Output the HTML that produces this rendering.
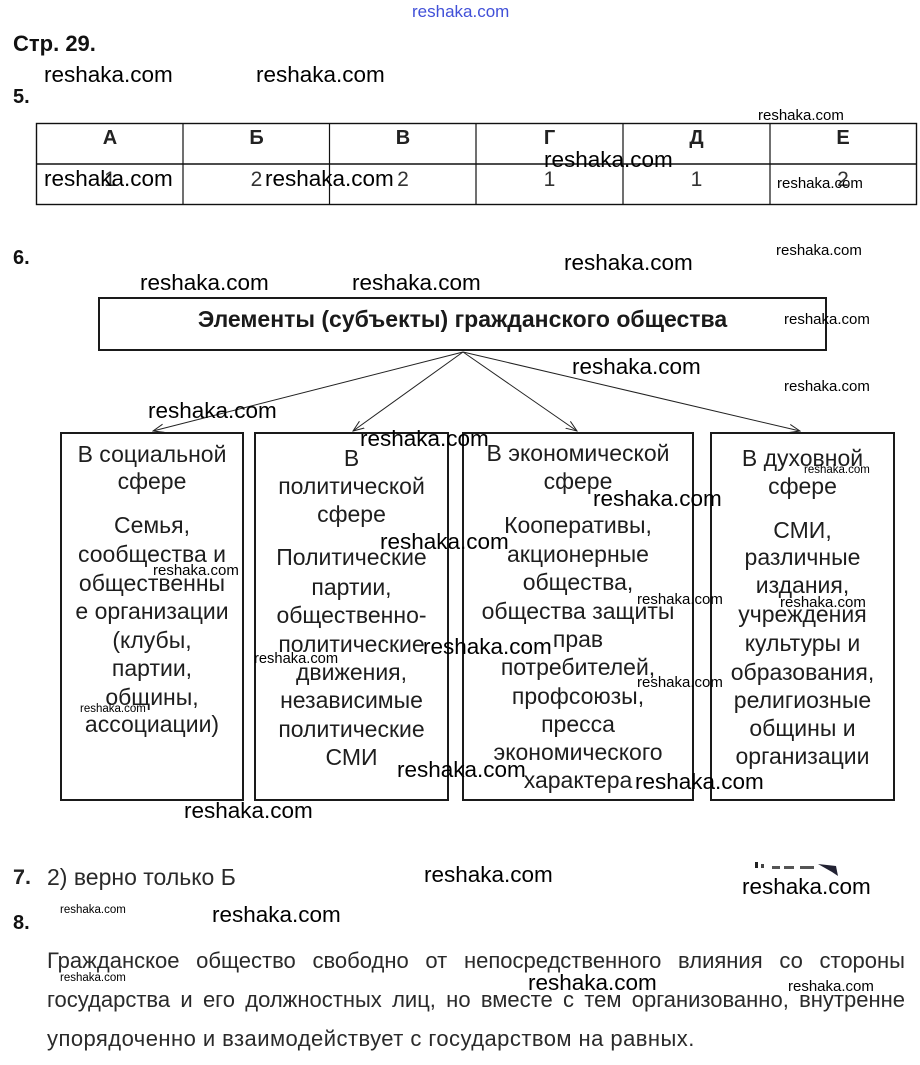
<!DOCTYPE html>
<html><head><meta charset="utf-8">
<style>
html,body{margin:0;padding:0;background:#fff;}
body{width:920px;height:1065px;position:relative;overflow:hidden;font-family:"Liberation Sans","DejaVu Sans",sans-serif;color:#1a1a1a;}
.t{position:absolute;line-height:1;white-space:nowrap;}
.b{font-weight:bold;}
.c{text-align:center;}
.bx{font-size:23px;color:#1e1e1e;margin-top:-1.3px;}
.w{position:absolute;line-height:1;white-space:nowrap;color:#000;font-size:22.5px;z-index:5;}
.s{position:absolute;line-height:1;white-space:nowrap;color:#000;font-size:15px;z-index:5;}
.xs{position:absolute;line-height:1;white-space:nowrap;color:#000;font-size:11.5px;z-index:5;}
.p{position:absolute;left:47px;width:858px;font-size:22px;line-height:1;color:#2a2a2a;white-space:nowrap;}
.j{text-align:justify;text-align-last:justify;white-space:normal;}
</style></head><body>

<svg width="920" height="1065" style="position:absolute;left:0;top:0;" xmlns="http://www.w3.org/2000/svg">
<defs>
<marker id="ah" markerWidth="12" markerHeight="10" refX="11" refY="5" orient="auto" markerUnits="userSpaceOnUse">
<path d="M0,0.8 L11,5 L0,9.2" fill="none" stroke="#222" stroke-width="1"/>
</marker>
</defs>
<rect x="36.5" y="123.5" width="880" height="81" fill="none" stroke="#111" stroke-width="1.4"/>
<line x1="36.5" y1="164" x2="916.5" y2="164" stroke="#111" stroke-width="1.4"/>
<line x1="183" y1="123.5" x2="183" y2="204.5" stroke="#111" stroke-width="1.2"/>
<line x1="329.5" y1="123.5" x2="329.5" y2="204.5" stroke="#111" stroke-width="1.2"/>
<line x1="476" y1="123.5" x2="476" y2="204.5" stroke="#111" stroke-width="1.2"/>
<line x1="623" y1="123.5" x2="623" y2="204.5" stroke="#111" stroke-width="1.2"/>
<line x1="770" y1="123.5" x2="770" y2="204.5" stroke="#111" stroke-width="1.2"/>
<rect x="99" y="298" width="727" height="52" fill="none" stroke="#1a1a1a" stroke-width="2"/>
<line x1="463" y1="352" x2="153" y2="431" stroke="#222" stroke-width="1" marker-end="url(#ah)"/>
<line x1="463" y1="352" x2="353" y2="431" stroke="#222" stroke-width="1" marker-end="url(#ah)"/>
<line x1="463" y1="352" x2="577" y2="431" stroke="#222" stroke-width="1" marker-end="url(#ah)"/>
<line x1="463" y1="352" x2="800" y2="431" stroke="#222" stroke-width="1" marker-end="url(#ah)"/>
<rect x="61" y="433" width="182" height="367" fill="none" stroke="#1a1a1a" stroke-width="2"/>
<rect x="255" y="433" width="193" height="367" fill="none" stroke="#1a1a1a" stroke-width="2"/>
<rect x="463" y="433" width="230" height="367" fill="none" stroke="#1a1a1a" stroke-width="2"/>
<rect x="711" y="433" width="183" height="367" fill="none" stroke="#1a1a1a" stroke-width="2"/>
<rect x="755" y="862" width="3" height="6" fill="#222"/>
<rect x="761" y="864" width="3" height="4" fill="#444"/>
<rect x="772" y="866" width="8" height="3" fill="#555"/>
<rect x="784" y="866" width="10" height="3" fill="#555"/>
<rect x="800" y="866" width="14" height="3" fill="#555"/>
<path d="M818,864 L836,866 L838,876 L832,872 Z" fill="#223"/>
</svg>

<div class="t" style="left:412px;top:2.6px;font-size:17px;color:#4150d8;">reshaka.com</div>

<div class="t b" style="left:13px;top:33.4px;font-size:22px;color:#111;">Стр. 29.</div>
<div class="t b" style="left:13px;top:87px;font-size:20px;color:#111;">5.</div>

<div class="t b c" style="left:37px;width:146px;top:128px;font-size:20px;color:#222;">А</div>
<div class="t b c" style="left:183px;width:147px;top:128px;font-size:20px;color:#222;">Б</div>
<div class="t b c" style="left:330px;width:146px;top:128px;font-size:20px;color:#222;">В</div>
<div class="t b c" style="left:476px;width:147px;top:128px;font-size:20px;color:#222;">Г</div>
<div class="t b c" style="left:623px;width:147px;top:128px;font-size:20px;color:#222;">Д</div>
<div class="t b c" style="left:770px;width:146px;top:128px;font-size:20px;color:#222;">Е</div>
<div class="t c" style="left:37px;width:146px;top:169.2px;font-size:21px;color:#333;">1</div>
<div class="t c" style="left:183px;width:147px;top:169.2px;font-size:21px;color:#333;">2</div>
<div class="t c" style="left:330px;width:146px;top:169.2px;font-size:21px;color:#333;">2</div>
<div class="t c" style="left:476px;width:147px;top:169.2px;font-size:21px;color:#333;">1</div>
<div class="t c" style="left:623px;width:147px;top:169.2px;font-size:21px;color:#333;">1</div>
<div class="t c" style="left:770px;width:146px;top:169.2px;font-size:21px;color:#333;">2</div>

<div class="t b" style="left:13px;top:248px;font-size:20px;color:#111;">6.</div>

<div class="t b c" style="left:98px;width:729px;top:307.5px;font-size:23px;color:#1a1a1a;">Элементы (субъекты) гражданского общества</div>

<div class="t c bx" style="left:60px;width:184px;top:443.8px;">В социальной</div>
<div class="t c bx" style="left:60px;width:184px;top:470.8px;">сфере</div>
<div class="t c bx" style="left:60px;width:184px;top:514.8px;">Семья,</div>
<div class="t c bx" style="left:60px;width:184px;top:543.8px;">сообщества и</div>
<div class="t c bx" style="left:60px;width:184px;top:572.8px;">общественны</div>
<div class="t c bx" style="left:60px;width:184px;top:600.8px;">е организации</div>
<div class="t c bx" style="left:60px;width:184px;top:629.8px;">(клубы,</div>
<div class="t c bx" style="left:60px;width:184px;top:657.8px;">партии,</div>
<div class="t c bx" style="left:60px;width:184px;top:686.8px;">общины,</div>
<div class="t c bx" style="left:60px;width:184px;top:713.8px;">ассоциации)</div>

<div class="t c bx" style="left:254px;width:195px;top:447.8px;">В</div>
<div class="t c bx" style="left:254px;width:195px;top:475.8px;">политической</div>
<div class="t c bx" style="left:254px;width:195px;top:503.8px;">сфере</div>
<div class="t c bx" style="left:254px;width:195px;top:546.8px;">Политические</div>
<div class="t c bx" style="left:254px;width:195px;top:576.8px;">партии,</div>
<div class="t c bx" style="left:254px;width:195px;top:604.8px;">общественно-</div>
<div class="t c bx" style="left:254px;width:195px;top:633.8px;">политические</div>
<div class="t c bx" style="left:254px;width:195px;top:661.8px;">движения,</div>
<div class="t c bx" style="left:254px;width:195px;top:689.8px;">независимые</div>
<div class="t c bx" style="left:254px;width:195px;top:718.8px;">политические</div>
<div class="t c bx" style="left:254px;width:195px;top:746.8px;">СМИ</div>

<div class="t c bx" style="left:462px;width:232px;top:442.8px;">В экономической</div>
<div class="t c bx" style="left:462px;width:232px;top:470.8px;">сфере</div>
<div class="t c bx" style="left:462px;width:232px;top:514.8px;">Кооперативы,</div>
<div class="t c bx" style="left:462px;width:232px;top:543.8px;">акционерные</div>
<div class="t c bx" style="left:462px;width:232px;top:571.8px;">общества,</div>
<div class="t c bx" style="left:462px;width:232px;top:600.8px;">общества защиты</div>
<div class="t c bx" style="left:462px;width:232px;top:628.8px;">прав</div>
<div class="t c bx" style="left:462px;width:232px;top:656.8px;">потребителей,</div>
<div class="t c bx" style="left:462px;width:232px;top:685.8px;">профсоюзы,</div>
<div class="t c bx" style="left:462px;width:232px;top:713.8px;">пресса</div>
<div class="t c bx" style="left:462px;width:232px;top:741.8px;">экономического</div>
<div class="t c bx" style="left:462px;width:232px;top:769.8px;">характера</div>

<div class="t c bx" style="left:710px;width:185px;top:447.8px;">В духовной</div>
<div class="t c bx" style="left:710px;width:185px;top:475.8px;">сфере</div>
<div class="t c bx" style="left:710px;width:185px;top:519.8px;">СМИ,</div>
<div class="t c bx" style="left:710px;width:185px;top:546.8px;">различные</div>
<div class="t c bx" style="left:710px;width:185px;top:574.8px;">издания,</div>
<div class="t c bx" style="left:710px;width:185px;top:603.8px;">учреждения</div>
<div class="t c bx" style="left:710px;width:185px;top:632.8px;">культуры и</div>
<div class="t c bx" style="left:710px;width:185px;top:661.8px;">образования,</div>
<div class="t c bx" style="left:710px;width:185px;top:689.8px;">религиозные</div>
<div class="t c bx" style="left:710px;width:185px;top:717.8px;">общины и</div>
<div class="t c bx" style="left:710px;width:185px;top:745.8px;">организации</div>

<div class="t b" style="left:13px;top:866.8px;font-size:21.5px;color:#222;">7.</div>
<div class="t" style="left:47px;top:865.5px;font-size:23px;color:#2a2a2a;">2) верно только Б</div>
<div class="t b" style="left:13px;top:913px;font-size:20px;color:#111;">8.</div>

<div class="p j" style="top:950.4px;">Гражданское общество свободно от непосредственного влияния со стороны</div>
<div class="p j" style="top:989.4px;">государства и его должностных лиц, но вместе с тем организованно, внутренне</div>
<div class="p" style="top:1028.4px;letter-spacing:0.45px;">упорядоченно и взаимодействует с государством на равных.</div>

<div class="w" style="left:44px;top:64px;">reshaka.com</div>
<div class="w" style="left:256px;top:64px;">reshaka.com</div>
<div class="w" style="left:544px;top:149px;">reshaka.com</div>
<div class="w" style="left:44px;top:168px;">reshaka.com</div>
<div class="w" style="left:265px;top:168px;">reshaka.com</div>
<div class="w" style="left:564px;top:252px;">reshaka.com</div>
<div class="w" style="left:140px;top:272px;">reshaka.com</div>
<div class="w" style="left:352px;top:272px;">reshaka.com</div>
<div class="w" style="left:572px;top:356px;">reshaka.com</div>
<div class="w" style="left:148px;top:400px;">reshaka.com</div>
<div class="w" style="left:360px;top:428px;">reshaka.com</div>
<div class="w" style="left:593px;top:488px;">reshaka.com</div>
<div class="w" style="left:380px;top:531px;">reshaka.com</div>
<div class="w" style="left:423px;top:636px;">reshaka.com</div>
<div class="w" style="left:397px;top:759px;">reshaka.com</div>
<div class="w" style="left:635px;top:771px;">reshaka.com</div>
<div class="w" style="left:184px;top:800px;">reshaka.com</div>
<div class="w" style="left:424px;top:864px;">reshaka.com</div>
<div class="w" style="left:742px;top:876px;">reshaka.com</div>
<div class="w" style="left:212px;top:904px;">reshaka.com</div>
<div class="w" style="left:528px;top:972px;">reshaka.com</div>

<div class="s" style="left:758px;top:108px;">reshaka.com</div>
<div class="s" style="left:777px;top:176px;">reshaka.com</div>
<div class="s" style="left:776px;top:243px;">reshaka.com</div>
<div class="s" style="left:784px;top:312px;">reshaka.com</div>
<div class="s" style="left:784px;top:379px;">reshaka.com</div>
<div class="s" style="left:153px;top:563px;">reshaka.com</div>
<div class="s" style="left:254px;top:652px;font-size:14.7px;">reshaka.com</div>
<div class="s" style="left:637px;top:592px;">reshaka.com</div>
<div class="s" style="left:637px;top:675px;">reshaka.com</div>
<div class="s" style="left:780px;top:595px;">reshaka.com</div>
<div class="s" style="left:788px;top:979px;">reshaka.com</div>
<div class="xs" style="left:80px;top:704px;">reshaka.com</div>
<div class="xs" style="left:804px;top:465px;">reshaka.com</div>
<div class="xs" style="left:60px;top:905px;">reshaka.com</div>
<div class="xs" style="left:60px;top:973px;">reshaka.com</div>

</body></html>
